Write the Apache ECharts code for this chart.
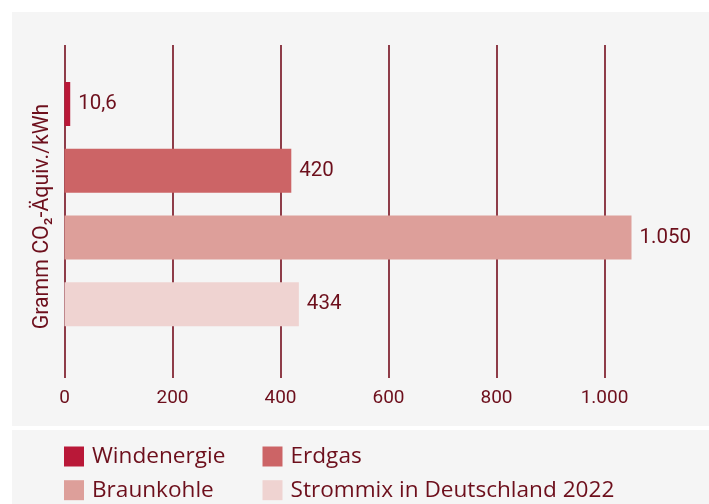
<!DOCTYPE html>
<html>
<head>
<meta charset="utf-8">
<style>
    html, body { margin: 0; padding: 0; background: #ffffff; }
    #chart { width: 709px; height: 504px; }
</style>
<script src="https://cdn.jsdelivr.net/npm/echarts@6/dist/echarts.min.js"></script>
</head>
<body>
<div id="chart"></div>
<script>
// data
const categories = ["Windenergie", "Erdgas", "Braunkohle", "Strommix in Deutschland 2022"];
const values = [10.6, 420, 1050, 434];
const barColors = ["#b91838", "#cc6466", "#dd9f9a", "#efd3d1"];
const tickValues = [0, 200, 400, 600, 800, 1000];

const textColor = "#6d0f1c";
const lineColor = "#750e1d";
const font = "Roboto";
const legendFont = "Open Sans";

// German number format: 1.050 / 10,6
const formatDe = (v) => {
    const parts = String(v).split(".");
    parts[0] = parts[0].replace(/\B(?=(\d{3})+(?!\d))/g, ".");
    return parts.join(",");
};

const xMin = tickValues[0];
const xMax = 1100;
const xInterval = tickValues[1] - tickValues[0];

const series = categories.map((name, i) => ({
    name,
    type: "bar",
    stack: "total",
    xAxisIndex: 1,
    yAxisIndex: 1,
    barWidth: 44,
    itemStyle: { color: barColors[i] },
    label: {
        show: true,
        position: "right",
        distance: 8,
        color: textColor,
        fontFamily: font,
        fontSize: 20.5,
        formatter: (p) => formatDe(p.value),
    },
    data: values.map((v, j) => (j === i ? v : "-")),
}));

const legendBase = {
    orient: "vertical",
    top: 445,
    height: 60,
    padding: 0,
    itemWidth: 20,
    itemHeight: 20,
    itemGap: 10.7,
    icon: "rect",
    textStyle: { color: textColor, fontFamily: legendFont, fontSize: 22.6, padding: [0, 0, 0, 3] },
};

const chart = echarts.init(document.getElementById("chart"), null, { renderer: "canvas" });

chart.setOption({
    animation: false,
    graphic: [
        { type: "rect", z: -10, shape: { x: 12, y: 12, width: 697, height: 414 }, style: { fill: "#f5f5f5" } },
        { type: "rect", z: -10, shape: { x: 12, y: 430, width: 697, height: 74 }, style: { fill: "#f5f5f5" } },
    ],
    legend: [
        Object.assign({}, legendBase, { data: [categories[0], categories[2]], left: 64 }),
        Object.assign({}, legendBase, { data: [categories[1], categories[3]], left: 262.5 }),
    ],
    grid: [
        // grid for the vertical lines and tick labels
        { left: 64.5, right: 50.5, top: 45, bottom: 126 },
        // grid for the bars
        { left: 64.5, right: 50.5, top: 70.6, bottom: 166.3 },
    ],
    xAxis: [
        {
            gridIndex: 0,
            type: "value",
            min: xMin,
            max: xMax,
            interval: xInterval,
            axisLine: { show: false },
            axisTick: { show: false },
            splitLine: { show: true, showMaxLine: false, lineStyle: { color: lineColor, width: 1.6 } },
            axisLabel: {
                showMaxLabel: false,
                margin: 11,
                color: textColor,
                fontFamily: font,
                fontSize: 19,
                formatter: (v) => formatDe(v),
            },
        },
        {
            gridIndex: 1,
            type: "value",
            min: xMin,
            max: xMax,
            interval: xInterval,
            show: false,
        },
    ],
    yAxis: [
        {
            gridIndex: 0,
            type: "category",
            data: categories,
            axisLine: { show: false },
            axisTick: { show: false },
            axisLabel: { show: false },
            name: "Gramm CO\u2082-Äquiv./kWh",
            nameLocation: "middle",
            nameGap: 11,
            nameTextStyle: { color: textColor, fontFamily: font, fontSize: 21.3, padding: [0, 10, 0, 0] },
        },
        {
            gridIndex: 1,
            type: "category",
            inverse: true,
            data: categories,
            show: false,
        },
    ],
    series,
});
</script>
</body>
</html>
